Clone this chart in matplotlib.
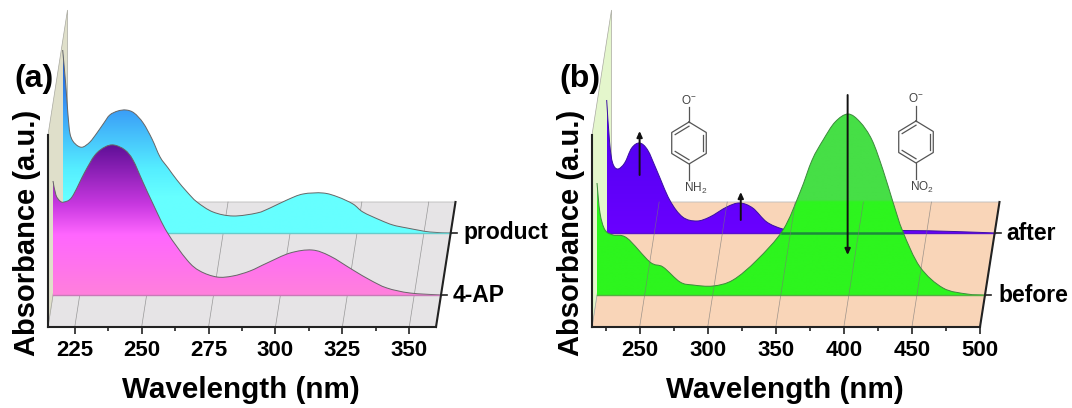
import numpy as np
import matplotlib
matplotlib.use("Agg")
import matplotlib.pyplot as plt
from matplotlib.colors import LinearSegmentedColormap
from matplotlib.patches import Polygon, PathPatch
from matplotlib.path import Path
from matplotlib.transforms import IdentityTransform
from matplotlib.ticker import MultipleLocator

plt.rcParams['font.family'] = ['Liberation Sans', 'DejaVu Sans']
plt.rcParams['mathtext.default'] = 'regular'

# ==========================
# data, panel a
# ==========================
wl_ap = [215, 216.1, 217.6, 219.1, 222.1, 226.9, 230.7, 234.4, 237.8, 241.9, 244.9, 248.6, 252.4, 257.6, 265.1, 269.9, 276.3, 282.2, 288.6, 295.0, 303.6, 311.8, 318.5, 327.1, 333.5, 339.8, 348.4, 360]
abs_ap = [1.14, 1.00, 0.94, 0.93, 0.98, 1.23, 1.40, 1.48, 1.50, 1.45, 1.35, 1.13, 0.91, 0.63, 0.35, 0.24, 0.18, 0.19, 0.24, 0.32, 0.42, 0.45, 0.39, 0.25, 0.15, 0.07, 0.02, 0.00]
wl_prod = [215, 216.1, 217.0, 217.7, 218.8, 220.7, 222.6, 225.2, 227.8, 230.4, 232.6, 235.6, 238.7, 241.7, 245.1, 248.4, 251.4, 254.4, 257.7, 261.5, 265.2, 271.2, 278.7, 287.6, 292.5, 298.8, 304.8, 312.3, 317.9, 323.5, 327.2, 333.6, 338.4, 343.7, 352.2, 360]
abs_prod = [1.83, 1.50, 1.18, 1.00, 0.92, 0.87, 0.86, 0.91, 1.00, 1.10, 1.18, 1.22, 1.23, 1.20, 1.10, 0.94, 0.76, 0.65, 0.53, 0.41, 0.31, 0.21, 0.17, 0.20, 0.25, 0.33, 0.39, 0.40, 0.36, 0.29, 0.21, 0.13, 0.08, 0.05, 0.01, 0.00]

# ==========================
# data, panel b
# ==========================
wl_before = [215, 217.2, 220.9, 226.8, 237.0, 253.9, 263.5, 276.0, 285.5, 300.2, 314.9, 332.5, 351.6, 364.2, 373.0, 381.1, 389.9, 399.4, 408.2, 417.0, 425.1, 432.4, 439.8, 452.3, 469.2, 486.8, 500]
abs_before = [1.12, 0.82, 0.65, 0.60, 0.57, 0.33, 0.28, 0.13, 0.10, 0.09, 0.15, 0.35, 0.65, 1.03, 1.35, 1.55, 1.73, 1.81, 1.73, 1.55, 1.25, 0.93, 0.63, 0.28, 0.07, 0.01, 0.00]
wl_after = [215, 217.2, 219.4, 223.1, 228.2, 233.4, 239.2, 245.1, 251.7, 261.3, 270.8, 281.1, 290.7, 303.2, 312.7, 322.3, 332.6, 344.3, 356.8, 393.5, 432, 470, 500]
abs_after = [1.33, 0.90, 0.70, 0.64, 0.70, 0.85, 0.90, 0.83, 0.63, 0.33, 0.16, 0.12, 0.16, 0.26, 0.30, 0.25, 0.11, 0.04, 0.01, 0.015, 0.025, 0.015, 0.00]

depth_a = {'ap': 0.256, 'prod': 0.752}
depth_b = {'before': 0.256, 'after': 0.752}
arrow_wl = [239.2, 313.5, 392]
arrow_from = [0.58, 0.13, 1.38]
arrow_to = [1.02, 0.41, -0.22]
after_under_green = [344, 432]

# oblique shift of the floor, px
DX, DY = 19.5, 125.0

GRAD_AP = [(0, '#ff80dc'), (0.4, '#ff66ff'), (0.6, '#c838e0'), (1, '#5e0f96')]
GRAD_PROD = [(0, '#66ffff'), (0.2, '#66ffff'), (0.35, '#55eeff'), (0.68, '#3a9cf8'), (1, '#1a4fd0')]
GRAD_AFTER = [(0, '#6a00ff'), (1, '#4b00ee')]
GRAD_BEFORE = [(0, '#2df51e'), (0.515, '#2df51e'), (0.525, '#46df46'), (1, '#46df46')]

W, H = 1072, 408
fig = plt.figure(figsize=(W / 100, H / 100), dpi=100)


def proj(ax, wl, a, d):
    pts = ax.transData.transform(np.column_stack([wl, a]))
    return pts + d * np.array([DX, DY])


def poly(ax, pts, **kw):
    p = Polygon(pts, closed=True, transform=IdentityTransform(), clip_on=False, **kw)
    ax.add_patch(p)
    return p


def line(ax, pts, **kw):
    pts = np.asarray(pts)
    ax.plot(pts[:, 0], pts[:, 1], transform=IdentityTransform(), clip_on=False, **kw)


def curve_verts(p):
    # bezier through the read points, only for drawing
    verts = [p[0]]
    n = len(p)
    for i in range(n - 1):
        a = p[max(i - 1, 0)]
        b = p[min(i + 2, n - 1)]
        verts.append(p[i] + (p[i + 1] - a) / 6)
        verts.append(p[i + 1] - (b - p[i]) / 6)
        verts.append(p[i + 1])
    return np.array(verts)


def filled(ax, wl, a, d, stops, z, edge='#666666', base_c='#888888'):
    top = proj(ax, np.array(wl, float), np.array(a, float), d)
    base = proj(ax, [wl[-1], wl[0]], [0, 0], d)
    v = curve_verts(top)
    codes = [Path.MOVETO] + [Path.CURVE4] * (len(v) - 1)
    shape = Path(np.vstack([v, base, base[-1]]), codes + [Path.LINETO, Path.LINETO, Path.CLOSEPOLY])
    clip = PathPatch(shape, fc='none', ec='none', transform=IdentityTransform(), clip_on=False, zorder=z)
    ax.add_patch(clip)
    cmap = LinearSegmentedColormap.from_list('g', stops)
    grad = np.linspace(1, 0, 256).reshape(-1, 1)
    ext = [v[:, 0].min(), v[:, 0].max(), base[:, 1].min(), v[:, 1].max()]
    im = ax.imshow(grad, cmap=cmap, vmin=0, vmax=1, extent=ext, origin='upper', aspect='auto',
                   transform=IdentityTransform(), zorder=z, interpolation='bilinear')
    im.set_clip_box(fig.bbox)
    im.set_clip_path(clip)
    ax.add_patch(PathPatch(Path(v, codes), fc='none', ec=edge, lw=0.7, transform=IdentityTransform(),
                           clip_on=False, zorder=z + 0.1))
    line(ax, base, color=base_c, lw=1.0, zorder=z + 0.1)


def panel(rect, xlim, major, minor, floor_c, wall_c, grid_z, grid_a):
    l, r, b, t = rect
    ax = fig.add_axes([l / W, (H - b) / H, (r - l) / W, (b - t) / H])
    ax.set_xlim(*xlim)
    ax.set_ylim(0, (b - t) / 100)
    ax.set_autoscale_on(False)
    ax.patch.set_visible(False)
    ax.spines['top'].set_visible(False)
    ax.spines['right'].set_visible(False)
    for s in ['left', 'bottom']:
        ax.spines[s].set_linewidth(1.5)
        ax.spines[s].set_color('#222222')
        ax.spines[s].set_zorder(20)
    ax.set_yticks([])
    ax.xaxis.set_major_locator(MultipleLocator(major))
    ax.xaxis.set_minor_locator(MultipleLocator(minor))
    ax.tick_params(axis='x', which='major', length=5, width=1.2, pad=4, labelsize=16, color='#222222')
    ax.tick_params(axis='x', which='minor', length=3, width=1.2, color='#222222')
    for lb in ax.get_xticklabels():
        lb.set_fontweight('bold')
    ax.set_xlabel('Wavelength (nm)', fontsize=21.3, fontweight='bold', va='center')
    ax.xaxis.set_label_coords(0.497, -0.33)
    ax.set_ylabel('Absorbance (a.u.)', fontsize=21, fontweight='bold', va='center')
    ax.yaxis.set_label_coords(-0.054, 0.49)

    # floor and wall
    x0, x1 = xlim
    ymax = (b - t) / 100
    floor = np.vstack([proj(ax, [x0, x1], [0, 0], 0), proj(ax, [x1, x0], [0, 0], 1)])
    poly(ax, floor, fc=floor_c, ec='#bbbbbb', lw=0.6, zorder=1)
    wall = np.vstack([proj(ax, [x0, x0], [0, ymax], 0), proj(ax, [x0, x0], [ymax, 0], 1)])
    poly(ax, wall, fc=wall_c, ec='#a8a8a0', lw=0.5, zorder=2)
    for tk in np.arange(np.ceil(x0 / major) * major, x1, major):
        line(ax, np.vstack([proj(ax, [tk], [0], 0), proj(ax, [tk], [0], 1)]),
             color='#777777', lw=0.5, alpha=grid_a, zorder=grid_z)
    # right edge of the floor
    line(ax, np.vstack([proj(ax, [x1], [0], 0), proj(ax, [x1], [0], 1)]),
         color='#222222', lw=1.5, zorder=20)
    return ax


def side_label(ax, x1, d, txt, gap):
    p = proj(ax, [x1], [0], d)[0]
    line(ax, [p, p + [6, 0]], color='#222222', lw=1.2, zorder=20)
    ax.text(p[0] + gap, p[1], txt, transform=IdentityTransform(), fontsize=16.5,
            fontweight='bold', va='center', ha='left', zorder=21)


# ==========================
# panel a
# ==========================
ax_a = panel((48, 436, 327, 135), (215, 360), 25, 12.5, '#e6e4e6', '#dfdfca', 1.5, 0.7)
filled(ax_a, wl_prod, abs_prod, depth_a['prod'], GRAD_PROD, 5, base_c='#66cccc')
filled(ax_a, wl_ap, abs_ap, depth_a['ap'], GRAD_AP, 6, base_c='#c87ab8')
side_label(ax_a, 360, depth_a['prod'], 'product', 13)
side_label(ax_a, 360, depth_a['ap'], '4-AP', 12)

# ==========================
# panel b
# ==========================
ax_b = panel((592, 980, 327, 135), (215, 500), 50, 25, '#f9d5b8', '#e4f6cc', 8, 0.7)
filled(ax_b, wl_after, abs_after, depth_b['after'], GRAD_AFTER, 5, edge='#3a10a0', base_c='#5a10d0')
filled(ax_b, wl_before, abs_before, depth_b['before'], GRAD_BEFORE, 6, edge='#3c8a3c', base_c='#55b040')
# after baseline seen through the green peak
line(ax_b, proj(ax_b, after_under_green, [0, 0], depth_b['after']), color='#1d8a3c', lw=1.8, zorder=7)
side_label(ax_b, 500, depth_b['after'], 'after', 12)
side_label(ax_b, 500, depth_b['before'], 'before', 13)

for w, a0, a1 in zip(arrow_wl, arrow_from, arrow_to):
    p0 = proj(ax_b, [w], [a0], depth_b['after'])[0]
    p1 = proj(ax_b, [w], [a1], depth_b['after'])[0]
    ax_b.annotate('', xy=p1, xytext=p0, xycoords=IdentityTransform(), textcoords=IdentityTransform(),
                  arrowprops=dict(arrowstyle='-|>,head_width=0.16,head_length=0.35', color='#111111',
                                  lw=1.4, shrinkA=0, shrinkB=0), zorder=15, annotation_clip=False)

# ==========================
# overlay, px coordinates from top left
# ==========================
ov = fig.add_axes([0, 0, 1, 1])
ov.set_xlim(0, W)
ov.set_ylim(H, 0)
ov.axis('off')
ov.text(34, 79, '(a)', fontsize=23, fontweight='bold', ha='center', va='center')
ov.text(580, 79, '(b)', fontsize=23, fontweight='bold', ha='center', va='center')


def molecule(cx, cy, r, sub, sub_x):
    c = '#555555'
    ang = np.deg2rad(np.arange(-90, 270, 60))
    xs = cx + r * 0.95 * np.cos(ang)
    ys = cy + r * np.sin(ang)
    ov.plot(np.r_[xs, xs[0]], np.r_[ys, ys[0]], color=c, lw=0.9)
    for i in [1, 3, 5]:
        j = (i + 1) % 6
        x0, y0 = cx + 0.8 * (xs[i] - cx), cy + 0.8 * (ys[i] - cy)
        x1, y1 = cx + 0.8 * (xs[j] - cx), cy + 0.8 * (ys[j] - cy)
        ov.plot([x0, x1], [y0, y1], color=c, lw=0.9)
    ov.plot([cx, cx], [cy - r, cy - r - 15], color=c, lw=0.9)
    ov.plot([cx, cx], [cy + r, cy + r + 16], color=c, lw=0.9)
    ov.text(cx, cy - r - 22, 'O$^{-}$', fontsize=8.5, color='#444444', ha='center', va='center')
    ov.text(sub_x, cy + r + 24, sub, fontsize=8.5, color='#444444', ha='center', va='center')


molecule(689, 143, 21, 'NH$_2$', 696)
molecule(916, 142, 21, 'NO$_2$', 922)

plt.savefig("out.png", dpi=100)
